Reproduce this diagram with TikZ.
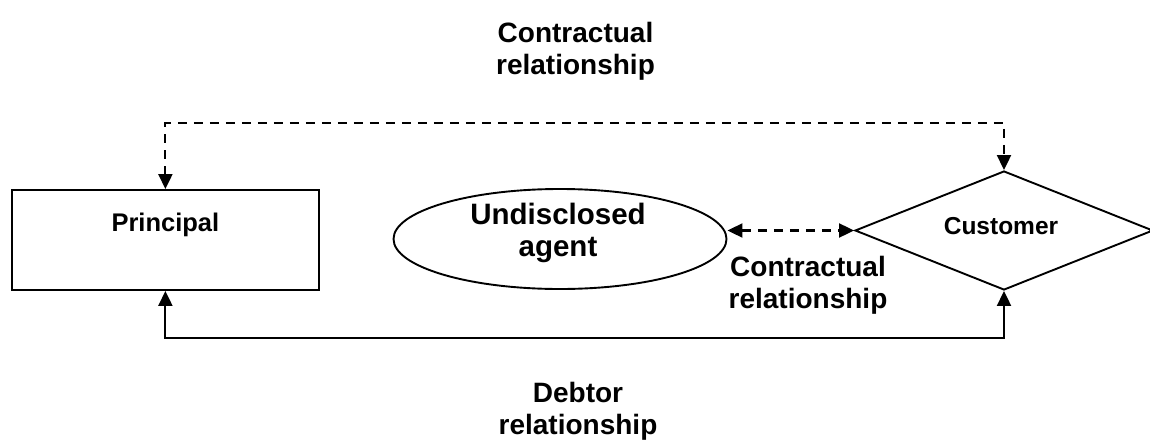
\documentclass[tikz,border=0pt]{standalone}
\usepackage{fontspec}
\setmainfont{Liberation Sans}
\usetikzlibrary{arrows.meta,shapes.geometric}
\begin{document}
\begin{tikzpicture}[x=1pt,y=-1pt,
  tip/.style={{Triangle[length=15pt,width=14pt]}-{Triangle[length=15pt,width=14pt]}},
  shapeline/.style={draw=black,line width=1.9pt,fill=white},
  conn/.style={line width=2.1pt,tip},
  dashconn/.style={conn,dash pattern=on 9pt off 7pt},
  lbl/.style={inner sep=0pt,align=center,anchor=north,font=\bfseries\fontsize{28}{32}\selectfont}
]
\useasboundingbox (0,0) rectangle (1150,439);
% shapes
\node[shapeline,rectangle,minimum width=307pt,minimum height=100pt,inner sep=0pt] (princ) at (165.4,240) {};
\node[shapeline,ellipse,minimum width=333pt,minimum height=100pt,inner sep=0pt] (agent) at (560,239) {};
\node[shapeline,diamond,minimum width=298pt,minimum height=119pt,inner sep=0pt,aspect=2.5] (cust) at (1004,230.5) {};
% texts
\node[inner sep=0pt,anchor=base,font=\bfseries\fontsize{25.5}{30}\selectfont] (princtxt) at (165.4,231.7) {Principal};
\node[inner sep=0pt,anchor=base,font=\bfseries\fontsize{24.5}{30}\selectfont] (custtxt) at (1001,234.3) {Customer};
\node[lbl,font=\bfseries\fontsize{29.5}{32}\selectfont] (agenttxt) at (558,203) {Undisclosed\\agent};
% labels
\node[lbl] (toplbl) at (575.5,22) {Contractual\\relationship};
\node[lbl] (midlbl) at (808,256) {Contractual\\relationship};
\node[lbl] (botlbl) at (578,382) {Debtor\\relationship};
% connectors
\coordinate (topy) at (0,123);
\coordinate (boty) at (0,338);
\draw[dashconn] (princ.north) -- (princ.north |- topy) -- (cust.north |- topy) -- (cust.north);
\draw[conn] (princ.south) -- (princ.south |- boty) -- (cust.south |- boty) -- (cust.south);
\draw[dashconn] (agent.east |- cust.west) -- (cust.west);
\end{tikzpicture}
\end{document}
